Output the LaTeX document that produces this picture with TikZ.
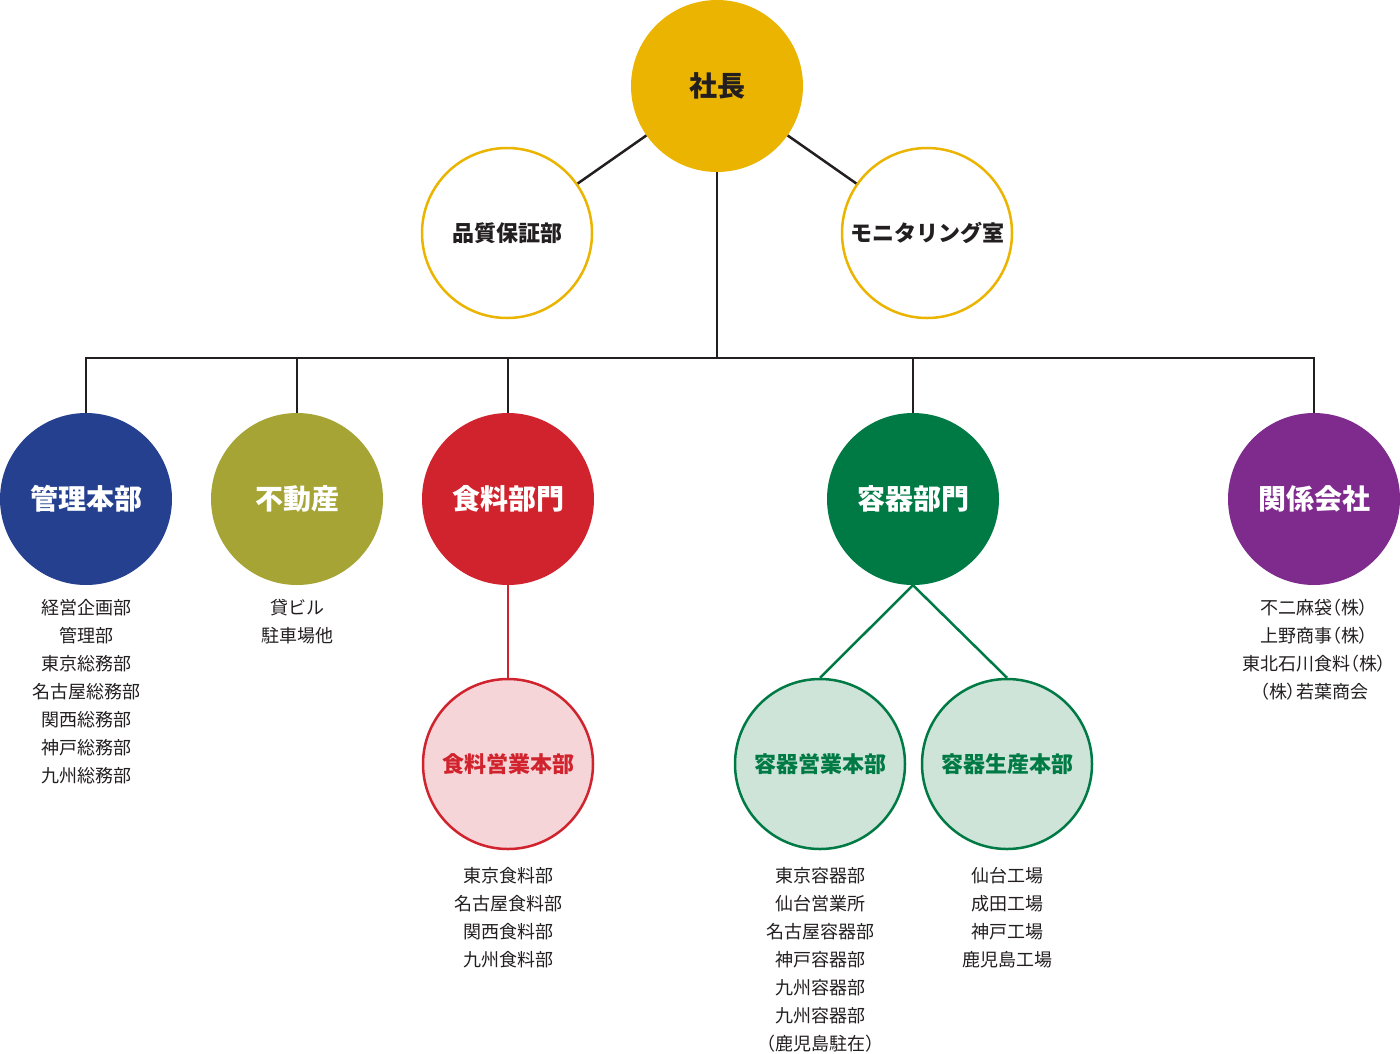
\documentclass[tikz,border=0pt]{standalone}
\usepackage{fontspec}
\setmainfont{Noto Sans CJK JP}
\usepackage{xcolor}
\usetikzlibrary{positioning}

\definecolor{ink}{HTML}{231F20}
\definecolor{gold}{HTML}{EBB400}
\definecolor{navy}{HTML}{25408F}
\definecolor{olive}{HTML}{A5A435}
\definecolor{crimson}{HTML}{D1232D}
\definecolor{forest}{HTML}{007A45}
\definecolor{plum}{HTML}{7F2A8D}
\definecolor{blush}{HTML}{F5D5D7}
\definecolor{mint}{HTML}{CEE4D9}

\begin{document}
\begin{tikzpicture}[
    x=1pt, y=-1pt,
    node distance=14pt,
    dot/.style={
        circle,
        inner sep=0pt,
        minimum size=172pt,
        text=white,
        font=\fontsize{28}{30}\selectfont\bfseries
    },
    ring/.style={
        circle,
        draw,
        line width=2.5pt,
        inner sep=0pt,
        minimum size=170pt,
        font=\fontsize{22}{24}\selectfont\bfseries
    },
    list/.style={
        align=center,
        inner sep=0pt,
        text=ink,
        font=\fontsize{18}{28}\selectfont
    },
    link/.style={
        draw=ink,
        line width=2.5pt
    }
]
\useasboundingbox (0,0) rectangle (1400,1053);

% top
\node[dot, fill=gold, text=ink] (shacho) at (717,86) {社長};
\node[ring, draw=gold, text=ink] (hinshitsu) at (507,233) {品質保証部};
\node[ring, draw=gold, text=ink] (monitor) at (927,233) {モニタリング室};

% divisions
\node[dot, fill=navy] (kanri) at (86,499) {管理本部};
\node[dot, fill=olive] (fudosan) at (297,499) {不動産};
\node[dot, fill=crimson] (shokuryo) at (508,499) {食料部門};
\node[dot, fill=forest] (yoki) at (913,499) {容器部門};
\node[dot, fill=plum] (kankei) at (1314,499) {関係会社};

% sub units
\node[ring, draw=crimson, fill=blush, text=crimson] (shokueigyo) at (508,764) {食料営業本部};
\node[ring, draw=forest, fill=mint, text=forest] (yokieigyo) at (820,764) {容器営業本部};
\node[ring, draw=forest, fill=mint, text=forest] (yokiseisan) at (1007,764) {容器生産本部};

% lists
\node[list, below=of kanri] (kanrilist)
{経営企画部\\管理部\\東京総務部\\名古屋総務部\\関西総務部\\神戸総務部\\九州総務部};
\node[list, below=of fudosan] (fudosanlist)
{貸ビル\\駐車場他};
\node[list, below=of kankei, font=\fontsize{18}{28}\selectfont\addfontfeature{RawFeature=+palt}] (kankeilist)
{不二麻袋（株）\\上野商事（株）\\東北石川食料（株）\\（株）若葉商会};
\node[list, below=17pt of shokueigyo] (shokulist)
{東京食料部\\名古屋食料部\\関西食料部\\九州食料部};
\node[list, below=17pt of yokieigyo] (eigyolist)
{東京容器部\\仙台営業所\\名古屋容器部\\神戸容器部\\九州容器部\\九州容器部\\（鹿児島駐在）};
\node[list, below=17pt of yokiseisan] (seisanlist)
{仙台工場\\成田工場\\神戸工場\\鹿児島工場};

% connectors
\coordinate (bus) at (717,358);
\draw[link] (shacho) -- (hinshitsu);
\draw[link] (shacho) -- (monitor);
\draw[link] (shacho.south) -- (bus);
\draw[link] (kanri.north) |- (bus);
\draw[link] (kankei.north) |- (bus);
\draw[link] (fudosan.north) -- (fudosan.north |- bus);
\draw[link] (shokuryo.north) -- (shokuryo.north |- bus);
\draw[link] (yoki.north) -- (yoki.north |- bus);
\draw[draw=crimson, line width=2.5pt] (shokuryo.south) -- (shokueigyo.north);
\draw[draw=forest, line width=2.5pt] (yoki.south) -- (yokieigyo.north);
\draw[draw=forest, line width=2.5pt] (yoki.south) -- (yokiseisan.north);

\end{tikzpicture}
\end{document}
